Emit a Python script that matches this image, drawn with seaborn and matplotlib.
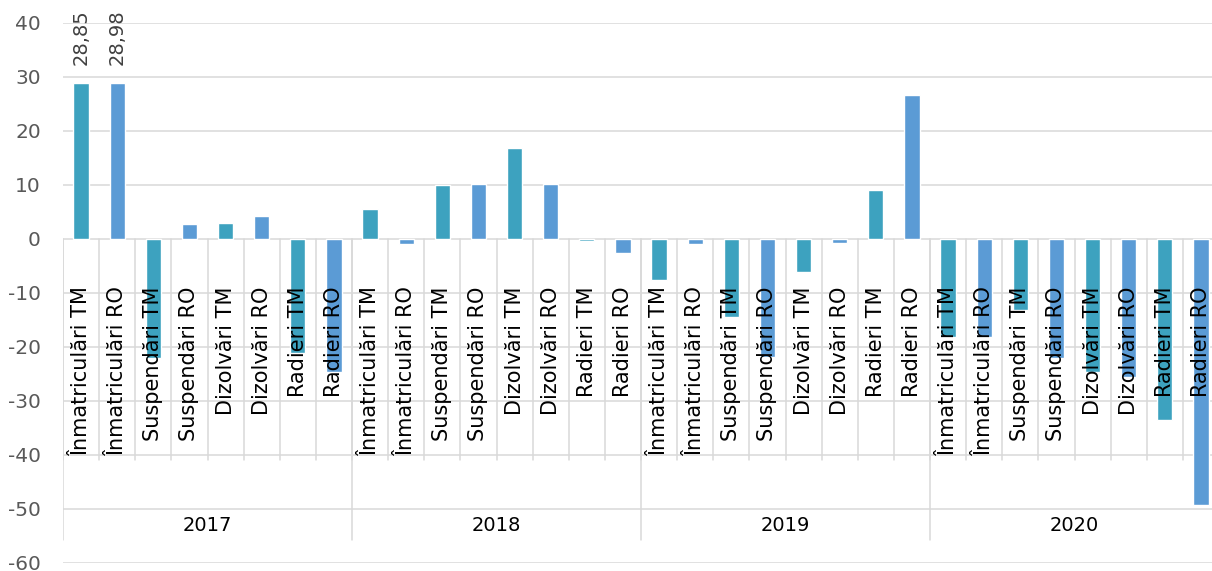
import matplotlib
matplotlib.use("Agg")
import matplotlib.pyplot as plt
import seaborn as sns
import pandas as pd

years = ["2017", "2018", "2019", "2020"]
categories = ["Înmatriculări TM", "Înmatriculări RO", "Suspendări TM", "Suspendări RO",
              "Dizolvări TM", "Dizolvări RO", "Radieri TM", "Radieri RO"]
values_2017 = [28.85, 28.98, -22.0, 2.8, 3.0, 4.2, -21.2, -24.6]
values_2018 = [5.6, -0.9, 10.0, 10.1, 16.85, 10.1, -0.3, -2.65]
values_2019 = [-7.6, -1.0, -14.4, -21.8, -6.2, -0.8, 9.1, 26.7]
values_2020 = [-18.1, -18.1, -13.1, -22.1, -24.6, -25.5, -33.5, -49.3]
labelled = {0: "28,85", 1: "28,98"}
y_ticks = [-60, -50, -40, -30, -20, -10, 0, 10, 20, 30, 40]

all_vals = [values_2017, values_2018, values_2019, values_2020]
rows = []
for y, vals in zip(years, all_vals):
    for c, v in zip(categories, vals):
        rows.append({"key": f"{y}|{c}", "year": y, "cat": c,
                     "region": "TM" if c.endswith("TM") else "RO", "value": v})
df = pd.DataFrame(rows)

sns.set_theme(style="white")
plt.rcParams['font.family'] = ['DejaVu Sans']
plt.rcParams['axes.unicode_minus'] = False

fig = plt.figure(figsize=(12.12, 5.71), dpi=100)
ax = fig.add_axes([63 / 1212, 8 / 571, 1156 / 1212, 540 / 571])

palette = {"TM": "#3DA2BF", "RO": "#5B9BD5"}
sns.barplot(data=df, x="key", y="value", hue="region", palette=palette,
            dodge=False, width=0.42, legend=False, ax=ax, zorder=2,
            order=list(df["key"]), saturation=1)

n = len(df)
ax.set_xlim(-0.5, n - 0.5)
ax.set_ylim(-60, 40)
ax.set_yticks(y_ticks)
ax.set_yticklabels([str(t) for t in y_ticks], color="#595959", fontsize=14.5)
ax.tick_params(axis="y", length=0, pad=16)
ax.set_xticks([])
ax.set_xlabel("")
ax.set_ylabel("")
for s in ax.spines.values():
    s.set_visible(False)

grid_c = "#D9D9D9"
for t in y_ticks:
    ax.axhline(t, color=grid_c, lw=1.1, zorder=0)

# category separators
for k in range(n + 1):
    ax.plot([k - 0.5, k - 0.5], [0, -40.9], color=grid_c, lw=1.1, zorder=1)
# group separators
for g in range(len(years) + 1):
    xg = g * len(categories) - 0.5
    ax.plot([xg, xg], [0, -55.7], color=grid_c, lw=1.1, zorder=1)

# category labels
for i, r in df.iterrows():
    ax.text(i, -8.8, r["cat"], rotation=90, ha="center", va="top",
            fontsize=15, color="black", zorder=3)

# year labels
for g, y in enumerate(years):
    ax.text(g * len(categories) + (len(categories) - 1) / 2, -53.0, y,
            ha="center", va="center", fontsize=14, color="black", zorder=3)

# data labels
for i, lab in labelled.items():
    ax.text(i, df["value"].iloc[i] + 3.3, lab, rotation=90, ha="center",
            va="bottom", fontsize=14, color="#404040", zorder=3)

fig.savefig("out.png", dpi=100)
